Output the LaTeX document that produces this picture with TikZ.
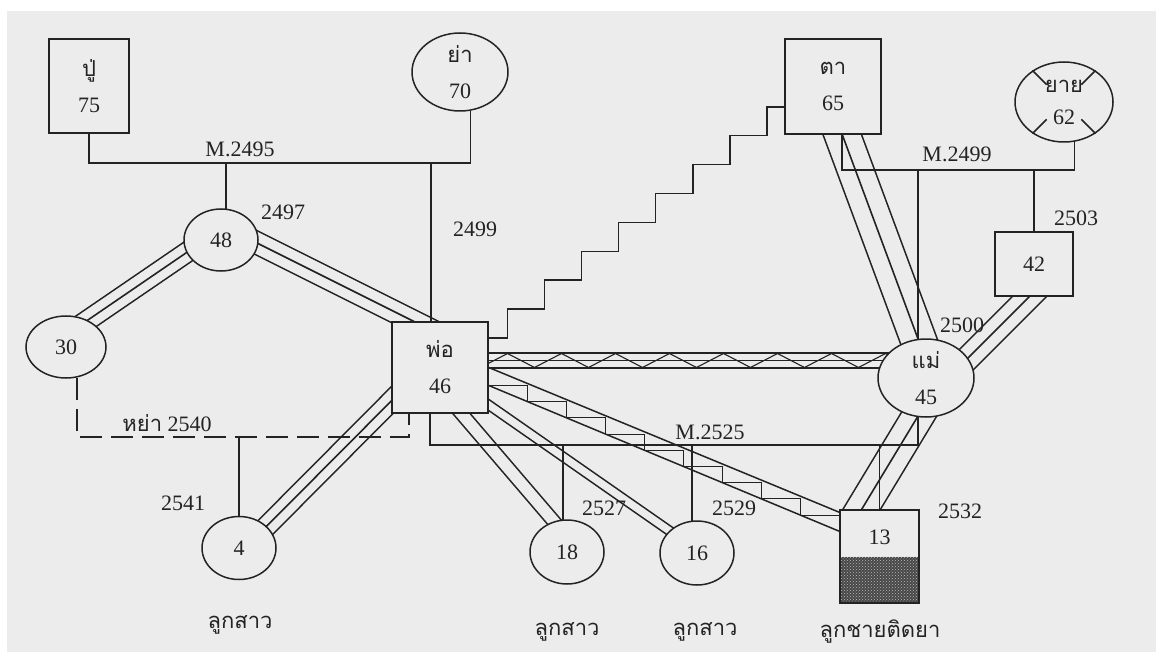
\documentclass[tikz,border=0pt]{standalone}
\usepackage{fontspec}
\setmainfont{Liberation Serif}
\newfontfamily\thaifont[Script=Thai]{Loma}
\usetikzlibrary{calc,shapes.geometric,backgrounds,decorations.pathmorphing,patterns}
\definecolor{paper}{RGB}{236,236,236}
\definecolor{ink}{RGB}{35,35,35}

\tikzset{
  person/.style={draw, fill=paper, inner sep=-8pt, align=center,
    font=\fontsize{22}{36}\selectfont},
  male/.style={person, rectangle},
  female/.style={person, ellipse},
  triple/.style={line width=1.6pt, double=paper, double distance=#1, postaction={draw}},
  triple/.default=18.4pt,
  twin/.style={line width=1.6pt, double=paper, double distance=#1},
  twin/.default=11.4pt,
  lbl/.style={font=\fontsize{22}{26}\selectfont, inner sep=0pt},
  thlbl/.style={font=\thaifont\fontsize{22}{26}\selectfont, inner sep=0pt},
}

\begin{document}
\begin{tikzpicture}[x=1pt, y=-1pt, line width=1.5pt, color=ink]
    \useasboundingbox (0,0) rectangle (1156,652);

    % grandparents
    \node[male, minimum width=80pt, minimum height=94pt] (G1) at (89,86) {{\thaifont ปู่}\\75};
    \node[female, minimum width=96pt, minimum height=78pt] (G2) at (460,72) {{\thaifont ย่า}\\70};
    \node[male, minimum width=96pt, minimum height=95pt] (G3) at (833,86.5) {{\thaifont ตา}\\65};
    \node[female, minimum width=98pt, minimum height=80pt, font=\fontsize{22}{32}\selectfont] (G4) at (1064,102) {{\thaifont ยาย}\\62};
    \foreach \a in {45,135,225,315}
        \draw (G4.\a) -- ($(G4.\a)!0.45!(G4.center)$);

    % parents
    \node[female, minimum width=74pt, minimum height=62pt] (U48) at (221,240) {48};
    \node[female, minimum width=80pt, minimum height=62pt] (A30) at (66,347) {30};
    \node[male, minimum width=96pt, minimum height=91pt] (F) at (440,367.5) {{\thaifont พ่อ}\\46};
    \node[female, minimum width=96pt, minimum height=78pt] (M) at (926,378) {{\thaifont แม่}\\45};
    \node[male, minimum width=78pt, minimum height=64pt] (B42) at (1034,264) {42};

    % children
    \node[female, minimum width=74pt, minimum height=63pt] (C4) at (239,548) {4};
    \node[female, minimum width=74pt, minimum height=64pt] (C18) at (567,552) {18};
    \node[female, minimum width=74pt, minimum height=64pt] (C16) at (697,553) {16};
    \node[male, minimum width=79pt, minimum height=93pt,
        path picture={
            \fill[black!72] (path picture bounding box.west) rectangle (path picture bounding box.south east);
            \fill[pattern=crosshatch dots, pattern color=paper!80!black] (path picture bounding box.west) rectangle (path picture bounding box.south east);
        }] (S13) at (879.5,556.5) {};
    \node[lbl] (n13) at (879.5,537) {13};

    % marriage bars
    \coordinate (mb1) at (0,163);
    \coordinate (mb2) at (0,170);
    \coordinate (mb3) at (0,445);
    \coordinate (mb4) at (0,437);

    \begin{scope}[on background layer]
    \begin{scope}[line width=1.5pt, color=ink]
        \fill[white] (0,0) rectangle (1156,652);
        \fill[paper] (7,11) rectangle (1156,652);

        % relationship bands
        \draw[triple] ([yshift=11pt]U48.center) -- ([yshift=12pt]A30.center);
        \draw[triple=20.4pt] ([yshift=15pt]U48.center) -- ([yshift=33pt]F.center);
        \draw[triple] ([yshift=-6pt]C4.center) -- ([yshift=15.5pt]F.center);
        \draw[triple=34.4pt] ([xshift=-8.6pt]G3.center) -- ([xshift=6.5pt]M.center);
        \draw[triple=22.4pt] ([xshift=28pt]B42.center) -- ([xshift=22pt]M.center);
        \begin{scope}
            \clip (0,0) rectangle ([xshift=200pt]S13.north east);
            \draw[triple=30.4pt] ($(S13.north)+(-48,50)$) -- ([xshift=15pt]M.center);
        \end{scope}
        \draw[triple=13.4pt] ([yshift=7pt]F.center) -- ([yshift=17.5pt]M.center);
        \draw[line width=1.1pt, decorate, decoration={zigzag, segment length=54pt, amplitude=7pt}]
            ([yshift=7pt]F.center) -- ([yshift=17.5pt]M.center);
        \draw[twin] ([xshift=-18pt]F.center) -- ([xshift=13pt]C18.center);
        \draw[twin=7.4pt] ([yshift=-3.5pt]F.center) -- ([yshift=3pt]C16.center);

        % father - son
        \coordinate (sb1) at ([yshift=-18pt]F.east);
        \coordinate (sb2) at ([yshift=-22pt]S13.north west);
        \draw (F.east) -- ([yshift=-3pt]S13.north west);
        \draw (sb1) -- (sb2);
        \foreach \i [evaluate=\i as \j using (\i+1)/9, evaluate=\i as \k using \i/9] in {0,...,8}
            \draw[line width=1.1pt] ($(sb1)!\k!(sb2)$) -| ($(sb1)!\j!(sb2)$);

        % father - grandfather (cut off)
        \draw ([yshift=29.5pt]F.east) -- ++(18.5,0)
            \foreach \s in {1,...,7} { -- ++(0,-28.9) -- ++(37.1,0) }
            -- ++(0,-28.9) -- ++(25,0);

        % marriages and children
        \coordinate (u1) at ([xshift=5pt]U48.center);
        \coordinate (f1) at ([xshift=-9pt]F.center);
        \draw (G1) |- (mb1 -| G2.-75) -- (G2.-75);
        \draw (u1) -- (u1 |- mb1);
        \draw (f1) -- (f1 |- mb1);

        \coordinate (g3a) at ([xshift=9pt]G3.center);
        \coordinate (ma) at ([xshift=-8pt]M.center);
        \draw (g3a) |- (mb2 -| G4.-75) -- (G4.-75);
        \draw (ma) -- (ma |- mb2);
        \draw (B42) -- (B42 |- mb2);

        \coordinate (fb) at ([xshift=-10pt]F.center);
        \coordinate (d18) at ([xshift=-4pt]C18.center);
        \coordinate (d16) at ([xshift=-5pt]C16.center);
        \draw (fb) |- (mb3 -| ma) -- (ma);
        \draw (d18) -- (d18 |- mb3);
        \draw (d16) -- (d16 |- mb3);
        \draw (S13) -- (S13 |- mb3);

        \coordinate (a1) at ([xshift=11pt]A30.center);
        \coordinate (f2) at ([xshift=-31pt]F.center);
        \draw[dash pattern=on 22pt off 9pt] (a1) |- (mb4 -| f2) -- (f2);
        \draw (C4) -- (C4 |- mb4);
    \end{scope}
    \end{scope}

    % years
    \node[lbl] (l2495) at (240,149) {M.2495};
    \node[lbl] (l2497) at (283,212) {2497};
    \node[lbl] (l2499) at (475,229) {2499};
    \node[lbl] (lm2499) at (957,154) {M.2499};
    \node[lbl] (l2503) at (1076,218) {2503};
    \node[lbl] (l2500) at (962,325) {2500};
    \node[lbl] (l2540) at (167,423) {{\thaifont หย่า} 2540};
    \node[lbl] (l2525) at (710,432) {M.2525};
    \node[lbl] (l2541) at (183,503) {2541};
    \node[lbl] (l2527) at (604,508) {2527};
    \node[lbl] (l2529) at (734,508) {2529};
    \node[lbl] (l2532) at (960,511) {2532};

    % children captions
    \node[thlbl] (k4) at (240,625) {ลูกสาว};
    \node[thlbl] (k18) at (567,632) {ลูกสาว};
    \node[thlbl] (k16) at (705,632) {ลูกสาว};
    \node[thlbl] (k13) at (880,632) {ลูกชายติดยา};
\end{tikzpicture}
\end{document}
